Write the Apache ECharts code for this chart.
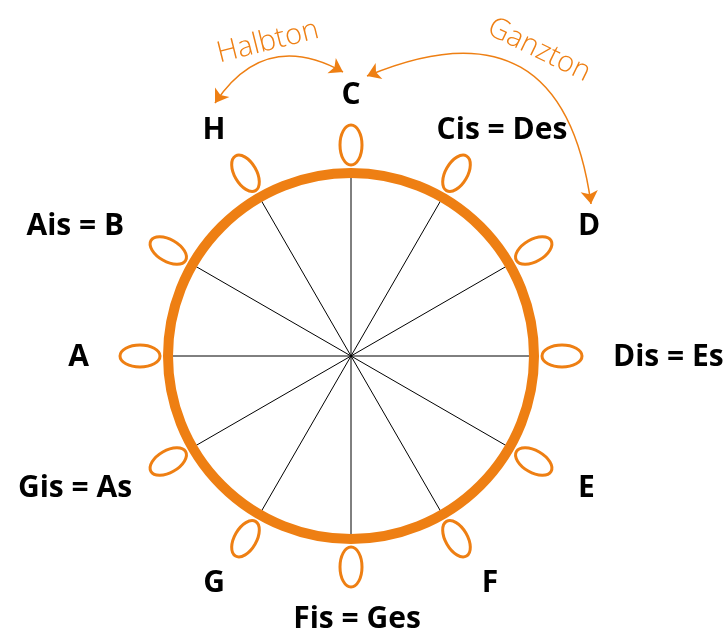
<!DOCTYPE html>
<html><head><meta charset="utf-8">
<script src="https://cdn.jsdelivr.net/npm/echarts@6/dist/echarts.min.js"></script>
<style>html,body{margin:0;padding:0;background:#fff}#c{width:726px;height:631px}</style>
</head><body><div id="c"></div>
<script>
// ---- data ----
const notes = ['C','Cis = Des','D','Dis = Es','E','F','Fis = Ges','G','Gis = As','A','Ais = B','H'];
const noteAngles = [0,30,60,90,120,150,180,210,240,270,300,330];
const arrowLabels = ['Halbton','Ganzton'];
const arrowFrom = [[-136,253],[16,280]];
const arrowTo = [[-8,284],[240,152]];
const arrowTextPos = [[-83,314],[188,306]];
const arrowTextAngle = [14,-26];

// ---- layout / style ----
const ORANGE = '#EE7F13';
const ringR = 183, knobR = 211, labelR = 262;
const knobRx = 11, knobRy = 20;
const arrowCurve = [0.46, 0.65];
const labelShiftX = {1: 20, 5: 8, 6: 6, 7: -6, 8: 8, 11: -6};
const FONT = "'Open Sans', 'Noto Sans', sans-serif";
const rad = d => d * Math.PI / 180;
const polar = (r, a) => [r * Math.sin(rad(a)), r * Math.cos(rad(a))];

const noteData = noteAngles.map((a, i) => ({ value: [a], name: notes[i] }));

const chart = echarts.init(document.getElementById('c'), null, { renderer: 'canvas' });
chart.setOption({
  animation: false,
  backgroundColor: '#fff',
  grid: { left: 0, right: 0, top: 0, bottom: 0 },
  xAxis: { type: 'value', min: -351, max: 375, show: false },
  yAxis: { type: 'value', min: -275, max: 356, show: false },
  series: [
    { // spokes
      type: 'custom', silent: true, z: 1,
      data: noteData,
      renderItem: (p, api) => {
        const a = api.value(0);
        const c = api.coord([0, 0]);
        const e = api.coord(polar(ringR, a));
        return { type: 'line', shape: { x1: c[0], y1: c[1], x2: e[0], y2: e[1] },
                 style: { stroke: '#000', lineWidth: 1 } };
      }
    },
    { // knobs
      type: 'custom', silent: true, z: 2,
      data: noteData,
      renderItem: (p, api) => {
        const a = api.value(0);
        const pt = api.coord(polar(knobR, a));
        const s = api.size([knobRx, knobRy]);
        return { type: 'ellipse', x: pt[0], y: pt[1], rotation: -rad(a),
                 shape: { cx: 0, cy: 0, rx: s[0], ry: s[1] },
                 style: { fill: 'none', stroke: ORANGE, lineWidth: 3 } };
      }
    },
    { // ring
      type: 'custom', silent: true, z: 3,
      data: [[0, 0]],
      renderItem: (p, api) => {
        const c = api.coord([api.value(0), api.value(1)]);
        const s = api.size([ringR, ringR]);
        return { type: 'circle', shape: { cx: c[0], cy: c[1], r: s[0] },
                 style: { fill: 'none', stroke: ORANGE, lineWidth: 10 } };
      }
    },
    { // note labels
      type: 'custom', silent: true, z: 4,
      data: noteData,
      renderItem: (p, api) => {
        const a = api.value(0);
        const sn = Math.sin(rad(a));
        const pt = api.coord(polar(labelR, a));
        const align = sn > 0.8 ? 'left' : (sn < -0.8 ? 'right' : 'center');
        return { type: 'text', x: pt[0] + (labelShiftX[p.dataIndex] || 0), y: pt[1] + 1,
                 style: { text: notes[p.dataIndex], fill: '#000', fontSize: 30, fontWeight: 'bold',
                          fontFamily: FONT, align: align, verticalAlign: 'middle' } };
      }
    },
    { // arrows
      type: 'lines', coordinateSystem: 'cartesian2d', silent: true, z: 5,
      symbol: ['arrow', 'arrow'], symbolSize: 13,
      data: arrowFrom.map((f, i) => ({
        coords: [f, arrowTo[i]],
        lineStyle: { curveness: arrowCurve[i] }
      })),
      lineStyle: { color: ORANGE, width: 1.5, opacity: 1 }
    },
    { // arrow captions
      type: 'custom', silent: true, z: 6,
      data: arrowTextPos,
      renderItem: (p, api) => {
        const pt = api.coord([api.value(0), api.value(1)]);
        return { type: 'text', x: pt[0], y: pt[1], rotation: rad(arrowTextAngle[p.dataIndex]),
                 style: { text: arrowLabels[p.dataIndex], fill: ORANGE, fontSize: 29, fontWeight: 300,
                          fontFamily: FONT, align: 'center', verticalAlign: 'middle' } };
      }
    }
  ]
});
</script></body></html>
